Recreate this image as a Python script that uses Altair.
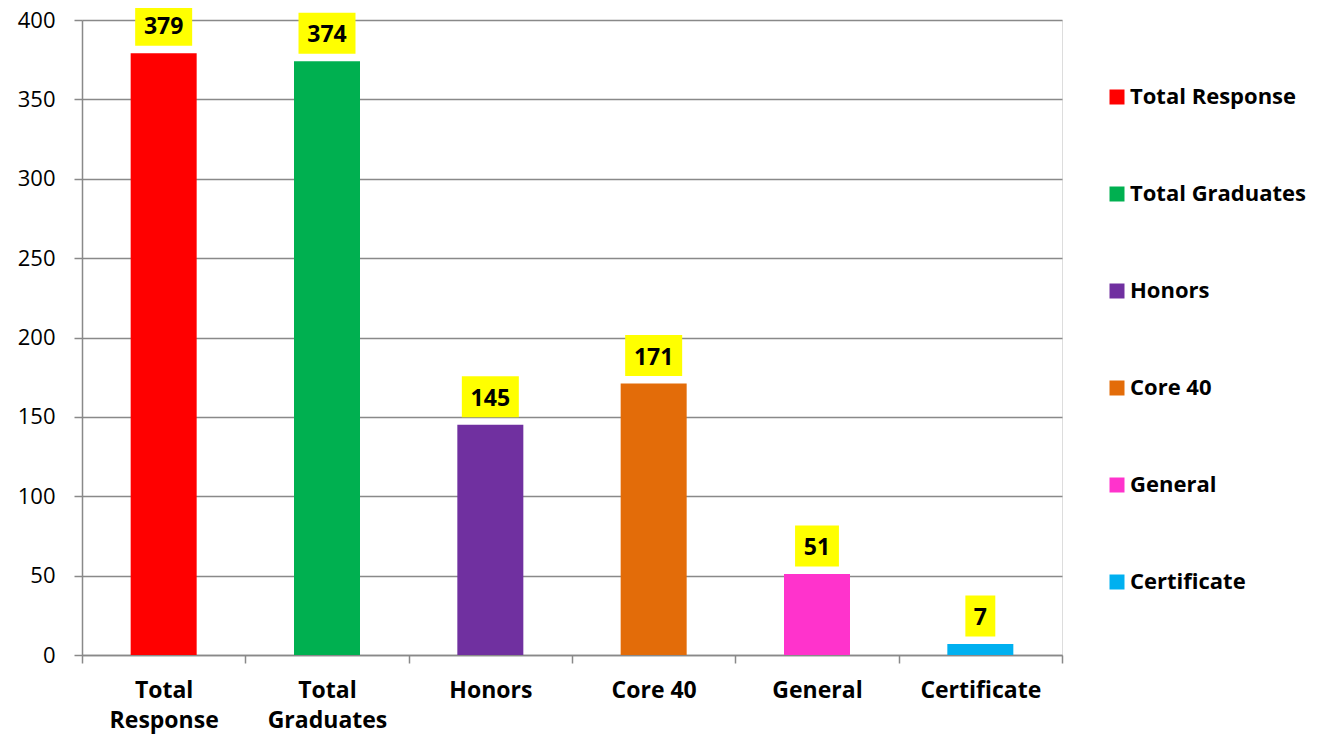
import altair as alt
import pandas as pd

categories = ["Total Response", "Total Graduates", "Honors", "Core 40", "General", "Certificate"]
values = [379, 374, 145, 171, 51, 7]
colors = ["#FF0000", "#00B050", "#7030A0", "#E36C09", "#FF33CC", "#00B0F0"]

df = pd.DataFrame({"category": categories, "value": values})

FONT = "Open Sans"
GRID = "#898989"

x_enc = alt.X(
    "category:N",
    sort=categories,
    scale=alt.Scale(paddingInner=0, paddingOuter=0),
    axis=alt.Axis(
        title=None,
        labelAngle=0,
        labelFont=FONT,
        labelFontSize=23,
        labelFontWeight="bold",
        labelColor="black",
        labelPadding=16,
        labelLineHeight=30,
        labelExpr="indexof(datum.label, 'Total') == 0 ? split(datum.label, ' ') : datum.label",
        tickBand="extent",
        tickSize=8,
        tickColor=GRID,
        domainColor=GRID,
        tickWidth=1.5,
        domainWidth=1.5,
    ),
)
y_enc = alt.Y(
    "value:Q",
    scale=alt.Scale(domain=[0, 400], nice=False),
    axis=alt.Axis(
        title=None,
        values=list(range(0, 401, 50)),
        labelFont=FONT,
        labelFontSize=22,
        labelColor="black",
        labelPadding=19,
        tickSize=8,
        tickColor=GRID,
        domainColor=GRID,
        gridColor=GRID,
        tickWidth=1.5,
        domainWidth=1.5,
        gridWidth=1.5,
        grid=True,
    ),
)

base = alt.Chart(df)

bars = base.mark_bar(width=66).encode(
    x=x_enc,
    y=y_enc,
    color=alt.Color(
        "category:N",
        sort=categories,
        scale=alt.Scale(domain=categories, range=colors),
        legend=alt.Legend(
            title=None,
            orient="none",
            legendX=1024,
            legendY=66,
            symbolType="square",
            symbolSize=225,
            symbolStrokeWidth=0,
            labelFont=FONT,
            labelFontSize=22,
            labelFontWeight="bold",
            labelColor="black",
            labelOffset=2,
            labelLimit=400,
            rowPadding=75,
            padding=0,
        ),
    ),
)

shapes = [
    "M-0.73,-1L0.73,-1L0.73,1L-0.73,1Z",
    "M-1.07,-1L1.07,-1L1.07,1L-1.07,1Z",
    "M-1.39,-1L1.39,-1L1.39,1L-1.39,1Z",
]

boxes = base.transform_calculate(
    digits="'d' + length(toString(datum.value))"
).mark_point(filled=True, opacity=1, yOffset=-28, strokeWidth=0).encode(
    x=alt.X("category:N", sort=categories),
    y=alt.Y("value:Q"),
    shape=alt.Shape("digits:N", scale=alt.Scale(domain=["d1", "d2", "d3"], range=shapes), legend=None),
    size=alt.value(1681),
    color=alt.value("#FFFF00"),
)

labels = base.mark_text(
    font=FONT, fontSize=23, fontWeight="bold", color="black", baseline="middle", yOffset=-26
).encode(
    x=alt.X("category:N", sort=categories),
    y=alt.Y("value:Q"),
    text=alt.Text("value:Q"),
)

chart = (
    alt.layer(bars, boxes, labels)
    .properties(
        width=980,
        height=635,
        autosize=alt.AutoSizeParams(type="none"),
        padding={"left": 74, "top": 12, "right": 247, "bottom": 82},
    )
    .configure_view(stroke=None)
    .configure(background="white")
)

chart.save("out.html", embed_options={"renderer": "svg", "actions": False})
